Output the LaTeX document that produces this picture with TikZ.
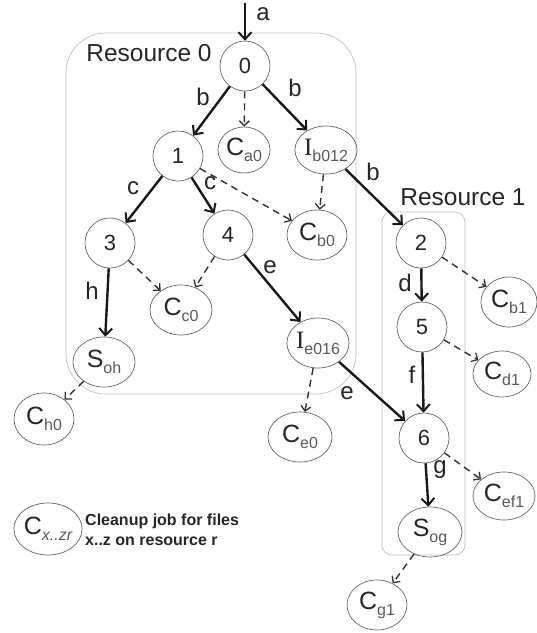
\documentclass[tikz,border=0pt]{standalone}
\usepackage{fontspec}
\setmainfont{Liberation Sans}
\newfontfamily\serifI{Liberation Serif}
\usetikzlibrary{shapes.geometric,arrows.meta}
\newcommand{\jobsub}[2]{{\fontsize{25}{25}\selectfont #1}\raisebox{-6pt}{\fontsize{16}{16}\selectfont\color{black!65}#2}}
\begin{document}
\begin{tikzpicture}[x=1pt,y=-1pt,
  every node/.style={font=\fontsize{22}{24}\selectfont,text=black!85},
  jobc/.style={circle,draw=black!60,line width=0.7pt,minimum size=50pt,inner sep=0pt},
  jobe/.style={ellipse,draw=black!60,line width=0.7pt,inner sep=0pt,minimum width=60pt,minimum height=50pt},
  dep/.style={line width=2.4pt,draw=black!90,-{Straight Barb[length=7pt,width=13pt,line width=2pt]}},
  cln/.style={line width=1.4pt,draw=black!80,dash pattern=on 7pt off 5pt,-{Straight Barb[length=5pt,width=10pt,line width=1.3pt]}},
  lbl/.style={inner sep=0pt,font=\fontsize{24}{24}\selectfont},
  res/.style={draw=black!25,line width=0.7pt,inner sep=0pt}]
\useasboundingbox (0,0) rectangle (537,633);
% resource boxes
\node[res,rounded corners=40pt,minimum width=290pt,minimum height=361pt] (r0) at (211,213.5) {};
\node[res,rounded corners=10pt,minimum width=83pt,minimum height=343pt] (r1) at (423.5,383.5) {};
\node[lbl,font=\fontsize{24.5}{24}\selectfont] (r0l) at (149,53) {Resource 0};
\node[lbl,font=\fontsize{24.5}{24}\selectfont] (r1l) at (463,197) {Resource 1};
% jobs
\node[jobc] (n0) at (245,66) {0};
\node[jobc] (n1) at (178,156) {1};
\node[jobe,minimum width=52pt,minimum height=46pt] (ca0) at (244,150) {\jobsub{C}{a0}};
\node[jobe,minimum width=62pt,minimum height=48pt] (ib012) at (326,150) {\jobsub{\serifI I}{b012}};
\node[jobc] (n3) at (110,243) {3};
\node[jobc] (n4) at (228,235) {4};
\node[jobe,minimum width=62pt] (cc0) at (181,310) {\jobsub{C}{c0}};
\node[jobe] (cb0) at (317,235) {\jobsub{C}{b0}};
\node[jobe,minimum width=62pt] (soh) at (104,362) {\jobsub{S}{oh}};
\node[jobe,minimum height=52pt] (ch0) at (44,419) {\jobsub{C}{h0}};
\node[jobc] (n2) at (421,243) {2};
\node[jobe,minimum width=56pt] (cb1) at (509,302) {\jobsub{C}{b1}};
\node[jobc] (n5) at (422,327) {5};
\node[jobe,minimum width=58pt,minimum height=46pt] (cd1) at (502,374) {\jobsub{C}{d1}};
\node[jobe] (ie016) at (318,343) {\jobsub{\serifI I}{e016}};
\node[jobe,minimum width=64pt] (ce0) at (300,437) {\jobsub{C}{e0}};
\node[jobc] (n6) at (424,438) {6};
\node[jobe,minimum width=62pt,minimum height=48pt] (cef1) at (504,496) {\jobsub{C}{ef1}};
\node[jobe,minimum width=64pt] (sog) at (430,532) {\jobsub{S}{og}};
\node[jobe] (cg1) at (377,605) {\jobsub{C}{g1}};
% legend
\node[jobe,minimum width=66pt,minimum height=52pt] (cleg) at (48,529) {\jobsub{C}{\itshape x..zr}};
\node[anchor=west,align=left,inner sep=0pt,font=\fontsize{16}{20}\selectfont\bfseries] (legtxt) at (85,530) {Cleanup job for files\\x..z on resource r};
% entry
\coordinate (entry) at (245,3);
% dependency edges
\draw[dep] (entry) -- (n0);
\draw[dep] (n0) -- (n1);
\draw[dep] (n0) -- (ib012);
\draw[dep] (n1) -- (n3);
\draw[dep] (n1) -- (n4);
\draw[dep] (n3) -- (soh);
\draw[dep] (n4) -- (ie016);
\draw[dep] (ib012) -- (n2);
\draw[dep] (n2) -- (n5);
\draw[dep] (n5) -- (n6);
\draw[dep] (ie016) -- (n6);
\draw[dep] (n6) -- (sog);
% cleanup edges
\draw[cln] (n0) -- (ca0);
\draw[cln] (n1) -- (cb0);
\draw[cln] (ib012) -- (cb0);
\draw[cln] (n3) -- (cc0);
\draw[cln] (n4) -- (cc0);
\draw[cln] (soh) -- (ch0);
\draw[cln] (ie016) -- (ce0);
\draw[cln] (n2) -- (cb1);
\draw[cln] (n5) -- (cd1);
\draw[cln] (n6) -- (cef1);
\draw[cln] (sog) -- (cg1);
% edge labels
\node[lbl] (la) at (263,14) {a};
\node[lbl] (lb1) at (203,97) {b};
\node[lbl] (lb2) at (295,88) {b};
\node[lbl] (lb3) at (373,172) {b};
\node[lbl] (lc1) at (133,188) {c};
\node[lbl] (lc2) at (210,183) {c};
\node[lbl] (lh) at (92,291) {h};
\node[lbl] (le1) at (270,267) {e};
\node[lbl] (le2) at (347,393) {e};
\node[lbl] (ld) at (405,283) {d};
\node[lbl] (lf) at (412,375) {f};
\node[lbl] (lg) at (440,470) {g};
\end{tikzpicture}
\end{document}
